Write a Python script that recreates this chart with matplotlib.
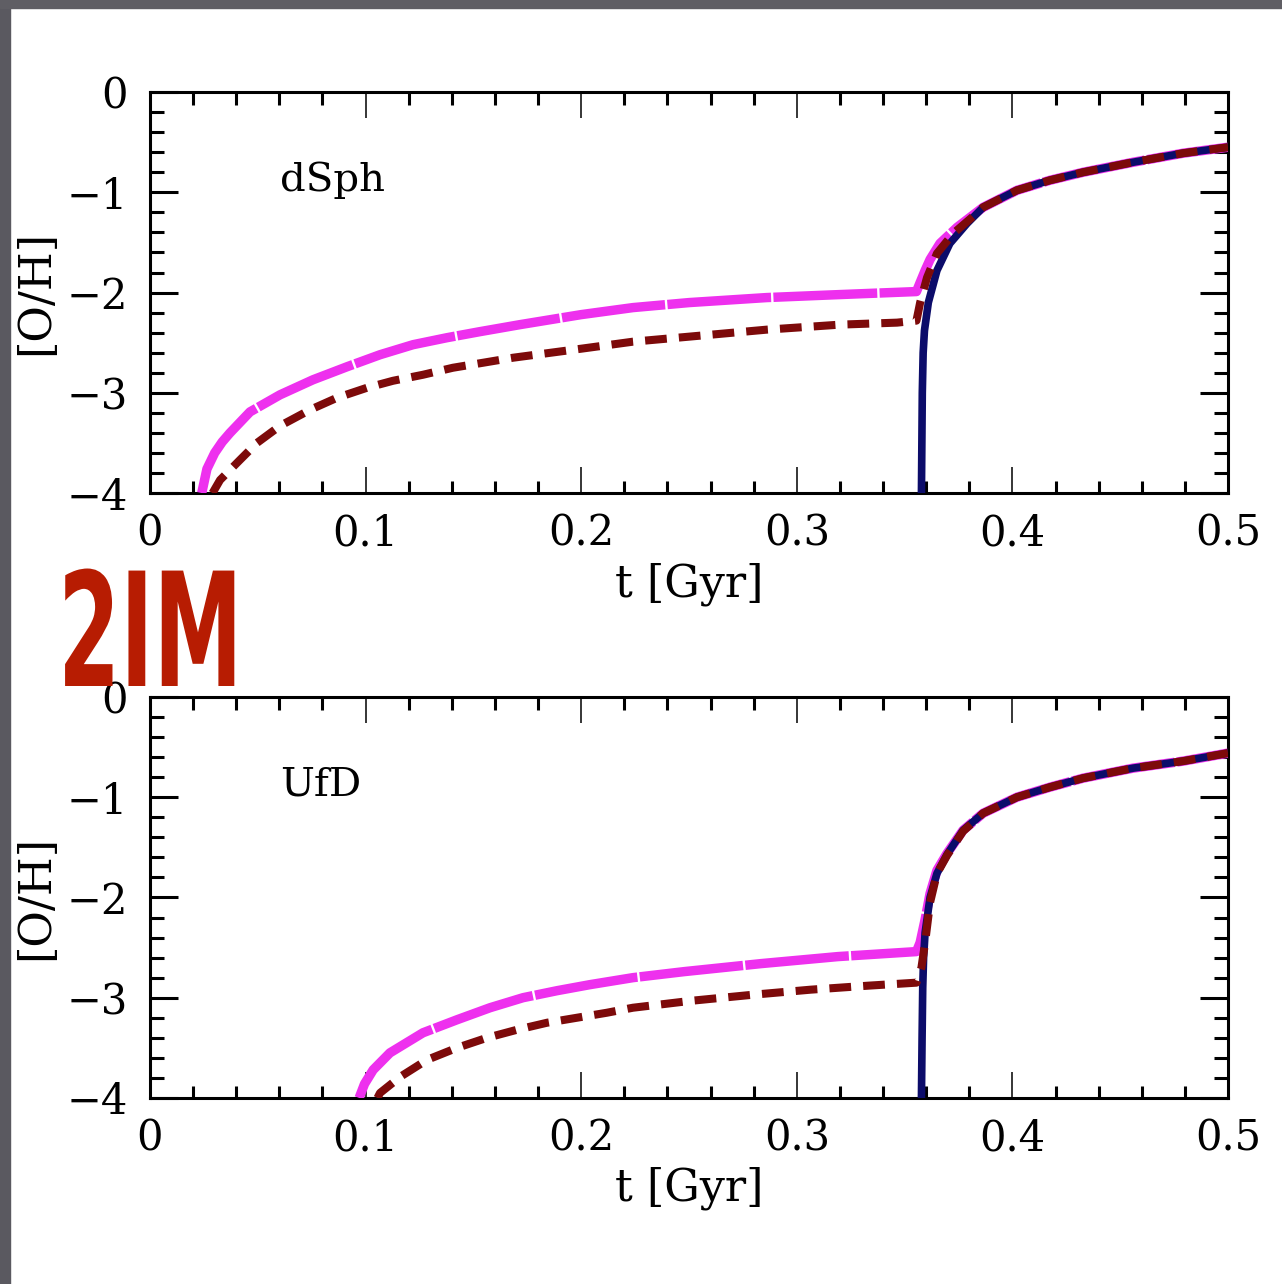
import numpy as np
import matplotlib
matplotlib.use("Agg")
import matplotlib.pyplot as plt
from matplotlib.ticker import MultipleLocator
from matplotlib.patches import Rectangle
from matplotlib.transforms import Affine2D
import matplotlib.patheffects as pe

# ---- data ----
# dSph panel
t_mag_dsph = [0.024, 0.0264, 0.030, 0.0335, 0.0371, 0.0464, 0.0603, 0.0756, 0.0914, 0.1067,
              0.122, 0.1378, 0.153, 0.1716, 0.2, 0.224, 0.25, 0.286, 0.32, 0.3555,
              0.3572, 0.3595, 0.3618, 0.3664, 0.3743]
oh_mag_dsph = [-4.0, -3.76, -3.60, -3.49, -3.40, -3.19, -3.02, -2.87, -2.74, -2.62,
               -2.52, -2.45, -2.39, -2.32, -2.22, -2.15, -2.10, -2.05, -2.02, -1.99,
               -1.90, -1.78, -1.67, -1.51, -1.35]
t_red_dsph = [0.029, 0.0325, 0.0417, 0.0496, 0.0603, 0.0742, 0.0867, 0.1006, 0.1127, 0.1266,
              0.1405, 0.1545, 0.1684, 0.2, 0.224, 0.25, 0.286, 0.32, 0.3465, 0.3555,
              0.3572, 0.3604, 0.365, 0.3726, 0.3818]
oh_red_dsph = [-4.0, -3.87, -3.67, -3.50, -3.33, -3.17, -3.05, -2.95, -2.88, -2.82,
               -2.75, -2.70, -2.65, -2.56, -2.49, -2.44, -2.37, -2.32, -2.30, -2.28,
               -2.10, -1.85, -1.61, -1.41, -1.24]
t_blue_dsph = [0.3578, 0.358, 0.3582, 0.3586, 0.3592, 0.361, 0.365, 0.371, 0.379]
oh_blue_dsph = [-4.0, -3.5, -3.0, -2.6, -2.38, -2.1, -1.78, -1.51, -1.31]
# late part shared by the three models
t_late_dsph = [0.3864, 0.4021, 0.4174, 0.4328, 0.456, 0.4792, 0.5]
oh_late_dsph = [-1.15, -0.98, -0.88, -0.80, -0.70, -0.61, -0.55]

# UfD panel
t_mag_ufd = [0.097, 0.0995, 0.1035, 0.1113, 0.1266, 0.1424, 0.1577, 0.173, 0.1888, 0.204,
             0.224, 0.2477, 0.2834, 0.319, 0.3555, 0.3572, 0.3595, 0.3618, 0.365, 0.3697,
             0.3771]
oh_mag_ufd = [-4.0, -3.86, -3.72, -3.55, -3.35, -3.22, -3.10, -3.00, -2.93, -2.87,
              -2.80, -2.74, -2.66, -2.59, -2.54, -2.45, -2.22, -1.96, -1.73, -1.56,
              -1.33]
t_red_ufd = [0.1055, 0.1067, 0.116, 0.1285, 0.1424, 0.1563, 0.1702, 0.1841, 0.198, 0.2119,
             0.224, 0.2514, 0.2798, 0.3064, 0.3331, 0.3555, 0.3578, 0.3595, 0.3618, 0.365,
             0.3697, 0.3771]
oh_red_ufd = [-4.0, -3.95, -3.79, -3.62, -3.50, -3.40, -3.32, -3.25, -3.20, -3.15,
              -3.10, -3.03, -2.97, -2.92, -2.88, -2.85, -2.70, -2.45, -2.05, -1.76,
              -1.58, -1.34]
t_blue_ufd = [0.3578, 0.3581, 0.3584, 0.3588, 0.3595, 0.3618, 0.365, 0.3697, 0.3771]
oh_blue_ufd = [-4.0, -3.4, -2.9, -2.6, -2.35, -2.0, -1.76, -1.57, -1.33]
t_late_ufd = [0.3864, 0.4021, 0.4174, 0.4328, 0.456, 0.4792, 0.5]
oh_late_ufd = [-1.16, -1.00, -0.90, -0.81, -0.71, -0.64, -0.56]

panel_names = ["dSph", "UfD"]

MAG = '#ee30ee'
RED = '#7d0a0a'
BLUE = '#0c0c6a'
FONT = 'DejaVu Serif'


class Squeeze(pe.AbstractPathEffect):
    # narrows the glyphs horizontally (condensed look)
    def __init__(self, sx):
        super().__init__()
        self.sx = sx

    def draw_path(self, renderer, gc, tpath, affine, rgbFace=None):
        renderer.draw_path(gc, tpath, Affine2D().scale(self.sx, 1) + affine, rgbFace)


def style(ax, name):
    ax.set_xlim(0, 0.5)
    ax.set_ylim(-4, 0)
    ax.xaxis.set_major_locator(MultipleLocator(0.1))
    ax.xaxis.set_minor_locator(MultipleLocator(0.02))
    ax.yaxis.set_major_locator(MultipleLocator(1))
    ax.yaxis.set_minor_locator(MultipleLocator(0.2))
    ax.tick_params(which='both', direction='in', top=True, right=True, colors='black')
    ax.tick_params(axis='x', which='major', length=19, width=1.1, pad=14)
    ax.tick_params(axis='x', which='minor', length=9, width=2.2)
    ax.tick_params(axis='y', which='major', length=20, width=2.2, pad=16)
    ax.tick_params(axis='y', which='minor', length=10, width=2.2)
    ax.xaxis.set_major_formatter(lambda v, p: '0' if abs(v) < 1e-9 else f'{v:.1f}')
    for lab in ax.get_xticklabels() + ax.get_yticklabels():
        lab.set_fontfamily(FONT)
        lab.set_fontsize(30)
    for s in ax.spines.values():
        s.set_linewidth(2.2)
    ax.set_xlabel('t [Gyr]', fontfamily=FONT, fontsize=32)
    ax.xaxis.set_label_coords(0.5, -0.172)
    ax.set_ylabel('[O/H]', fontfamily=FONT, fontsize=32)
    ax.yaxis.set_label_coords(-0.086, 0.5)
    ax.text(0.121, 0.78, name, transform=ax.transAxes, fontfamily=FONT,
            fontsize=29, va='center', ha='left')


fig = plt.figure(figsize=(12.82, 12.84), dpi=100)
ax1 = fig.add_axes([0.117, 0.616, 0.8409, 0.3123])
ax2 = fig.add_axes([0.117, 0.1449, 0.8409, 0.3123])

panels = [
    (ax1, t_mag_dsph, oh_mag_dsph, t_red_dsph, oh_red_dsph, t_blue_dsph, oh_blue_dsph,
     t_late_dsph, oh_late_dsph),
    (ax2, t_mag_ufd, oh_mag_ufd, t_red_ufd, oh_red_ufd, t_blue_ufd, oh_blue_ufd,
     t_late_ufd, oh_late_ufd),
]

for (ax, tm, om, tr, orr, tb, ob, tl, ol), name in zip(panels, panel_names):
    ax.plot(tm + tl, om + ol, color=MAG, lw=6.8, dashes=(11, 0.25), zorder=3)
    ax.plot(tb + tl, ob + ol, color=BLUE, lw=5.5, zorder=4)
    ax.plot(tr + tl, orr + ol, color=RED, lw=5.8, dashes=(2.7, 1.5), zorder=5)
    style(ax, name)

# the red "2IM" tag between the panels
fig.text(58 / 1282, 1 - 686 / 1284, '2IM', color='#b71c02', fontsize=114,
         fontweight='bold', fontfamily='DejaVu Sans', ha='left', va='baseline',
         zorder=10, path_effects=[Squeeze(0.565)])

# dark frame edges from the screenshot
fig.patches.append(Rectangle((0, 0), 10 / 1282, 1, transform=fig.transFigure,
                             color='#5a5960', zorder=-1))
fig.patches.append(Rectangle((0, 1 - 8 / 1284), 1, 8 / 1284, transform=fig.transFigure,
                             color='#5f5e64', zorder=-1))

fig.savefig('out.png', dpi=100)
